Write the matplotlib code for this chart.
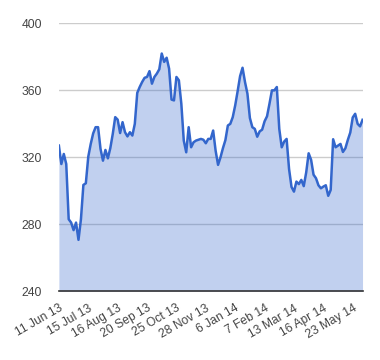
import matplotlib.pyplot as plt

# share price, one value per step on the category axis
prices = [
    327, 316, 322, 316, 283, 281, 276.5, 281, 270.7, 283,
    303.5, 304.5, 320.4, 328, 334.3, 338, 338, 325, 318, 324.4,
    319.4, 325.5, 334, 344, 342.5, 334.5, 341, 335, 332.5, 335,
    333, 340, 358.5, 362, 365, 367.5, 368, 371.5, 364, 368,
    370, 372.6, 382, 377, 379.5, 373, 354.5, 354, 368, 366,
    352, 330, 323, 338, 326, 329, 330, 330.5, 331, 330.5,
    328.4, 331, 331, 336, 324, 315.5, 320, 325.5, 330.3, 339,
    340, 344, 351, 359.5, 368.5, 373.5, 365, 358, 343.5, 338,
    337, 332.3, 335.5, 336.5, 341.5, 344.5, 352, 360, 360, 362,
    337, 326, 329.4, 331, 313, 302.3, 299.5, 305.5, 304, 306.5,
    302.8, 311, 322.4, 318.5, 309.6, 307.5, 303.3, 301.5, 302.5, 303.3,
    297, 300.5, 330.8, 326, 327, 328, 323.2, 325.4, 330.4, 334.8,
    343.8, 346, 340, 338.5, 342.4,
]

tick_labels = ['11 Jun 13', '15 Jul 13', '16 Aug 13', '20 Sep 13', '25 Oct 13',
               '28 Nov 13', '6 Jan 14', '7 Feb 14', '13 Mar 14', '16 Apr 14',
               '23 May 14']
label_every = 12

y_ticks = [240, 280, 320, 360, 400]

plt.rcParams['font.family'] = 'Liberation Sans'

fig = plt.figure(figsize=(3.8, 3.6), dpi=100)
ax = fig.add_axes([0.155, 0.191, 0.799, 0.744])

x = list(range(len(prices)))
ax.fill_between(x, prices, 240, color='#3366cc', alpha=0.3, linewidth=0)
ax.plot(x, prices, color='#3366cc', linewidth=1.8)

ax.set_xlim(0, len(prices) - 1)
ax.set_ylim(240, 400)

ax.set_yticks(y_ticks)
ax.set_yticklabels([str(v) for v in y_ticks])
for v in y_ticks[1:]:
    ax.axhline(v, color='#cccccc', linewidth=1, zorder=0)

ax.set_xticks([i * label_every for i in range(len(tick_labels))])
ax.set_xticklabels(tick_labels, rotation=30, ha='right', va='top',
                   rotation_mode='anchor')

ax.tick_params(axis='both', length=0, labelsize=8.7, labelcolor='#444444')
ax.tick_params(axis='y', pad=12)
ax.tick_params(axis='x', pad=8)

for side in ['top', 'right', 'left']:
    ax.spines[side].set_visible(False)
ax.spines['bottom'].set_color('#333333')
ax.spines['bottom'].set_linewidth(1.2)

fig.savefig('out.png', dpi=100)
